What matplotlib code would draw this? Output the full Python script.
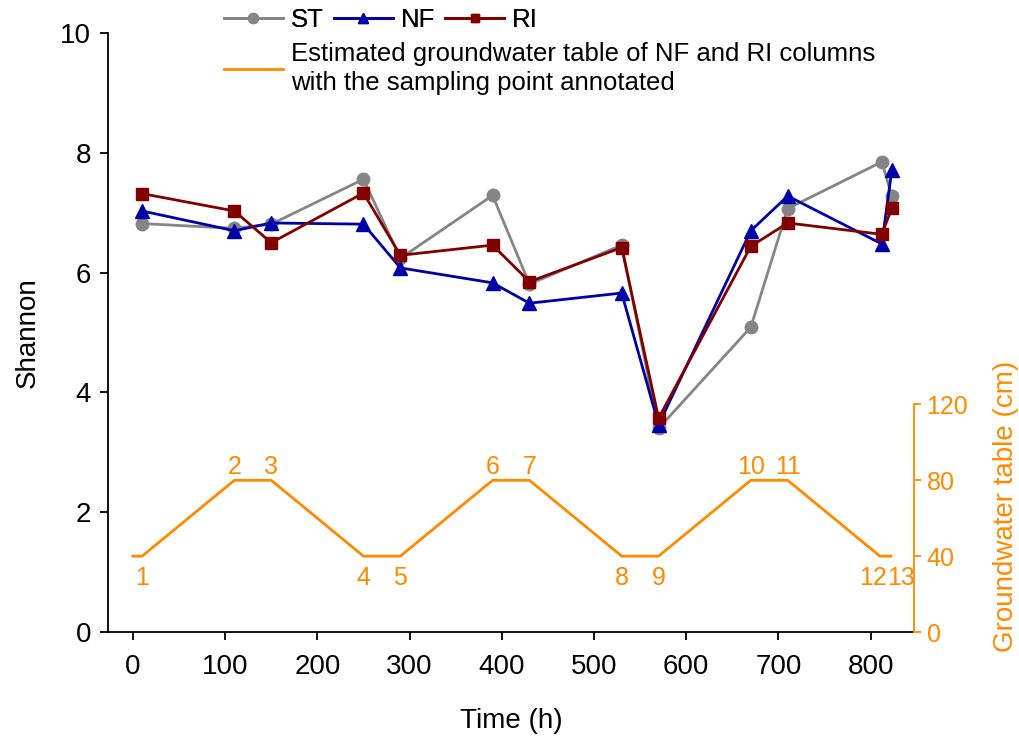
import matplotlib
matplotlib.use('Agg')
import matplotlib.pyplot as plt
from matplotlib.lines import Line2D

plt.rcParams['font.family'] = ['Liberation Sans', 'DejaVu Sans']

# sampling times (h) and Shannon index
time = [10, 110, 150, 250, 290, 390, 430, 530, 570, 670, 710, 812, 823]
st = [6.82, 6.74, 6.81, 7.56, 6.24, 7.29, 5.81, 6.46, 3.40, 5.09, 7.07, 7.85, 7.28]
nf = [7.03, 6.70, 6.83, 6.81, 6.08, 5.83, 5.49, 5.66, 3.46, 6.70, 7.28, 6.48, 7.72]
ri = [7.32, 7.03, 6.50, 7.33, 6.29, 6.46, 5.85, 6.42, 3.57, 6.44, 6.83, 6.64, 7.08]

# estimated groundwater table (cm)
gw_time = [0, 10, 110, 150, 250, 290, 390, 430, 530, 570, 670, 710, 810, 822]
gw_level = [40, 40, 80, 80, 40, 40, 80, 80, 40, 40, 80, 80, 40, 40]
sample_no = ['1', '2', '3', '4', '5', '6', '7', '8', '9', '10', '11', '12', '13']

orange = '#ff8a00'
gray = '#858585'
blue = '#0000a8'
red = '#800000'

fig = plt.figure(figsize=(10.19, 7.36), dpi=100)
ax = fig.add_axes([0.106, 0.1413, 0.791, 0.8137])

ax.plot(time, st, color=gray, lw=2, marker='o', ms=9, label='ST')
ax.plot(time, nf, color=blue, lw=2, marker='^', ms=9.5, label='NF')
ax.plot(time, ri, color=red, lw=2, marker='s', ms=8, label='RI')

ax.set_xlim(-27, 847)
ax.set_ylim(0, 10)
ax.set_xticks(range(0, 900, 100))
ax.set_yticks(range(0, 12, 2))
ax.spines['top'].set_visible(False)
ax.spines['right'].set_visible(False)
ax.spines['left'].set_linewidth(1.3)
ax.spines['bottom'].set_linewidth(1.3)
ax.tick_params(labelsize=20, length=6, width=1.3, pad=6)
ax.tick_params(axis='x', pad=10)
ax.set_xlabel('Time (h)', fontsize=20, labelpad=20)
ax.set_ylabel('Shannon', fontsize=20, labelpad=14)

ax2 = ax.twinx()
ax2.plot(gw_time, gw_level, color=orange, lw=2)
ax2.set_ylim(0, 315.8)
ax2.set_yticks([0, 40, 80, 120])
ax2.spines['top'].set_visible(False)
ax2.spines['left'].set_visible(False)
ax2.spines['bottom'].set_visible(False)
ax2.spines['right'].set_color(orange)
ax2.spines['right'].set_linewidth(1.3)
ax2.spines['right'].set_bounds(0, 120)
ax2.tick_params(axis='y', colors=orange, labelsize=18, length=5, width=1.3, pad=4)
ax2.set_ylabel('Groundwater table (cm)', fontsize=20, color=orange)
ax2.yaxis.set_label_coords(1.098, 0.21)

for t, lv, s in zip(gw_time[1:], gw_level[1:], sample_no):
    dx, ha = 0, 'center'
    if s == '12':
        dx, ha = 5, 'right'
    elif s == '13':
        dx, ha = -3, 'left'
    if lv > 60:
        ax2.annotate(s, (t, lv), xytext=(dx, 1), textcoords='offset points',
                     ha=ha, va='bottom', color=orange, fontsize=18)
    else:
        ax2.annotate(s, (t, lv), xytext=(dx, -7), textcoords='offset points',
                     ha=ha, va='top', color=orange, fontsize=18)

h1, l1 = ax.get_legend_handles_labels()
leg1 = fig.legend(h1, l1, loc='upper left', bbox_to_anchor=(0.207, 1.006), ncol=3,
                  frameon=False, fontsize=18.5, handlelength=2.3, handletextpad=0.3,
                  columnspacing=0.4, borderpad=0, markerscale=0.8)
fig.add_artist(leg1)
gw_handle = Line2D([], [], color=orange, lw=2)
leg2 = fig.legend([gw_handle], ['Estimated groundwater table of NF and RI columns\nwith the sampling point annotated'],
                  loc='upper left', bbox_to_anchor=(0.207, 0.961), frameon=False, fontsize=18.5,
                  handlelength=2.3, handletextpad=0.3, borderpad=0)
for txt in leg2.get_texts():
    txt.set_linespacing(1.3)

fig.savefig('out.png', dpi=100)
